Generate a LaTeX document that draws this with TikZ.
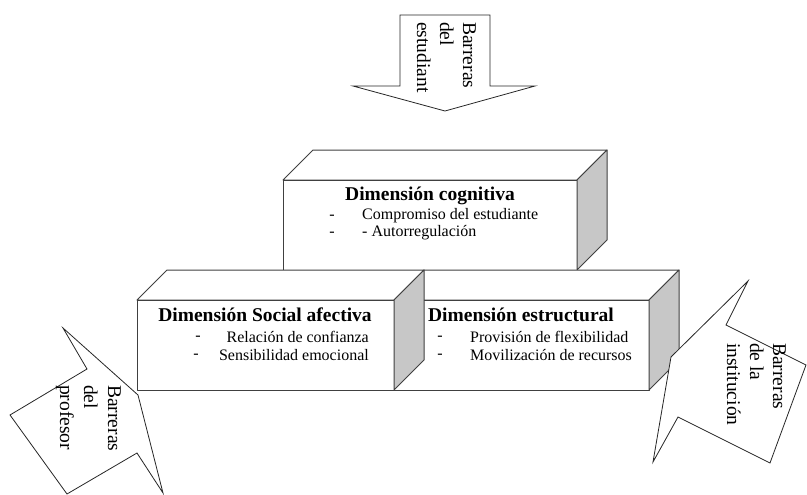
\documentclass[tikz,border=0pt]{standalone}
\usepackage{fontspec}
\setmainfont{Liberation Serif}

\begin{document}
\begin{tikzpicture}[x=1pt,y=-1pt,
  box/.style={draw=black!75,line width=1pt,fill=white,line join=round},
  sideface/.style={box,fill=black!22},
  callout/.style={draw=black!85,line width=0.8pt,fill=white},
  title/.style={font=\fontsize{19.5}{23}\selectfont\bfseries,inner sep=0pt},
  item/.style={font=\fontsize{16}{18}\selectfont,inner sep=0pt},
  vtext/.style={font=\fontsize{19.5}{23}\selectfont,inner sep=0pt,rotate=-90,anchor=base west}]
\useasboundingbox (0,0) rectangle (807,495);

\draw[box] (283,180)--(313,150)--(607,150)--(577,180)--cycle;
\draw[box] (283,180) rectangle (577,270);
\draw[sideface] (577,180)--(607,150)--(607,240)--(577,270)--cycle;
\node (cogtitle) at (430,196) [title] {Dimensión cognitiva};
\node (cogd1) at (332,217) [item] {-};
\node (cogd2) at (332,234) [item] {-};
\node (cog1) at (362,216) [item,anchor=west] {Compromiso del estudiante};
\node (cog2) at (362,233) [item,anchor=west] {- Autorregulación};

\draw[box] (424,270)--(679,270)--(649,300)--(394,300)--cycle;
\draw[box] (394,300) rectangle (649,390);
\draw[sideface] (649,300)--(679,270)--(679,360)--(649,390)--cycle;
\node (esttitle) at (521,315) [title] {Dimensión estructural};
\node (estd1) at (440,338) [item] {-};
\node (estd2) at (440,356) [item] {-};
\node (est1) at (470,337) [item,anchor=west] {Provisión de flexibilidad};
\node (est2) at (470,355) [item,anchor=west] {Movilización de recursos};

\draw[box] (167,270)--(424,270)--(394,300)--(137,300)--cycle;
\draw[box] (137,300) rectangle (394,390);
\draw[sideface] (394,300)--(424,270)--(424,360)--(394,390)--cycle;
\node (soctitle) at (265,315) [title] {Dimensión Social afectiva};
\node (socd1) at (198,338) [item] {-};
\node (socd2) at (196,356) [item] {-};
\node (soc1) at (369,337) [item,anchor=east] {Relación de confianza};
\node (soc2) at (369,355) [item,anchor=east] {Sensibilidad emocional};

\draw[callout] (400,15)--(490,15)--(490,86)--(535,86)--(445,111)--(353,86)--(400,86)--cycle;
\node (stu1) at (463,22) [vtext] {Barreras};
\node (stu2) at (440,22) [vtext] {del};
\node (stu3) at (417,22) [vtext] {estudiant};

\draw[callout] (63,328)--(87,369)--(10,415)--(67,494)--(137,453)--(163,493)--(138,395)--cycle;
\node (pro1) at (108,385) [vtext] {Barreras};
\node (pro2) at (84,385) [vtext] {del};
\node (pro3) at (60,385) [vtext] {profesor};

\draw[callout] (748,281)--(726,325)--(806,365)--(770,463)--(678,417)--(653,462)--(671,357)--cycle;
\node (ins1) at (773,343) [vtext] {Barreras};
\node (ins2) at (750,343) [vtext] {de la};
\node (ins3) at (727,343) [vtext] {institución};
\end{tikzpicture}
\end{document}
